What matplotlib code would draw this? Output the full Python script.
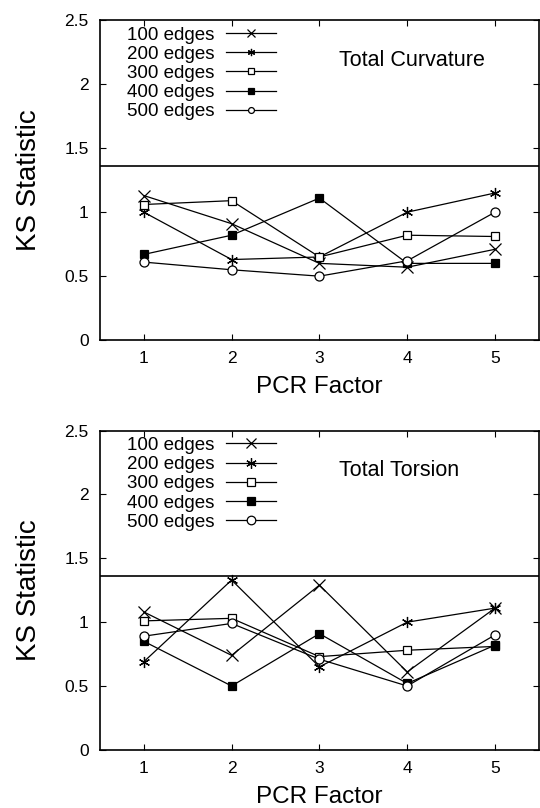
import matplotlib.pyplot as plt
import numpy as np

plt.rcParams['font.family'] = ['Liberation Sans', 'DejaVu Sans']

pcr = [1, 2, 3, 4, 5]
labels = ['100 edges', '200 edges', '300 edges', '400 edges', '500 edges']
markers = ['x', (6, 2, 0), 's', 's', 'o']
sizes = [8, 8, 6, 6, 6.5]
filled = [False, False, False, True, False]

curv_100 = [1.13, 0.91, 0.60, 0.57, 0.71]
curv_200 = [1.00, 0.63, 0.65, 1.00, 1.15]
curv_300 = [1.06, 1.09, 0.65, 0.82, 0.81]
curv_400 = [0.67, 0.82, 1.11, 0.60, 0.60]
curv_500 = [0.61, 0.55, 0.50, 0.62, 1.00]

tors_100 = [1.08, 0.74, 1.29, 0.61, 1.11]
tors_200 = [0.69, 1.33, 0.65, 1.00, 1.11]
tors_300 = [1.01, 1.03, 0.73, 0.78, 0.81]
tors_400 = [0.85, 0.50, 0.91, 0.52, 0.82]
tors_500 = [0.89, 0.99, 0.71, 0.50, 0.90]

ks_crit = 1.36

panels = [
    ('Total Curvature', [curv_100, curv_200, curv_300, curv_400, curv_500], 0.65),
    ('Total Torsion', [tors_100, tors_200, tors_300, tors_400, tors_500], 0.95),
]

fig = plt.figure(figsize=(5.4, 8.08), dpi=100)
boxes = [[0.185, 0.579, 0.813, 0.396], [0.185, 0.072, 0.813, 0.395]]

for box, (title, series, mscale) in zip(boxes, panels):
    ax = fig.add_axes(box)
    for vals, lab, mk, ms, fl in zip(series, labels, markers, sizes, filled):
        ax.plot(pcr, vals, color='black', lw=0.9, marker=mk, markersize=ms,
                markerfacecolor='black' if fl else 'white', markeredgecolor='black',
                markeredgewidth=0.9, label=lab)
    ax.axhline(ks_crit, color='black', lw=1.2)
    ax.set_xlim(0.5, 5.5)
    ax.set_ylim(0, 2.5)
    ax.set_xticks(pcr)
    ax.set_yticks([0, 0.5, 1, 1.5, 2, 2.5])
    ax.set_yticklabels(['0', '0.5', '1', '1.5', '2', '2.5'])
    ax.tick_params(direction='in', top=True, right=True, labelsize=12.5, length=4, pad=8)
    ax.set_xlabel('PCR Factor', fontsize=17.5, labelpad=7)
    ax.set_ylabel('KS Statistic', fontsize=20, labelpad=16)
    for s in ax.spines.values():
        s.set_linewidth(1.2)
    ax.text(0.545, 0.875, title, transform=ax.transAxes, fontsize=15.5, va='center')
    ax.legend(loc='upper left', bbox_to_anchor=(0.04, 1.01), markerfirst=False, frameon=False,
              fontsize=13.5, handlelength=2.7, labelspacing=0.11, borderpad=0.5,
              handletextpad=0.6, borderaxespad=0.0, markerscale=mscale)

fig.savefig('out.png', dpi=100)
